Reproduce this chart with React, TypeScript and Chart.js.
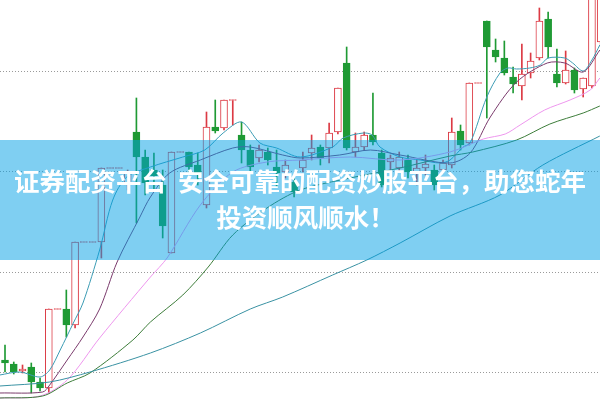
import React, { useEffect, useRef } from "react";
import { Chart, registerables } from "chart.js";

Chart.register(...registerables);

// ---- candle data (one entry per trading day) ----
const opens = [
  4.12, 4.08, 4.01, 4.05, 3.90, 3.84, 4.63, 4.63, 4.47, 5.30,
  5.30, 5.30, 6.04, 6.04, 5.87, 6.40, 6.15, 6.02, 5.87, 5.19,
  6.20, 6.20, 6.07, 5.67, 6.45, 6.44, 6.72, 6.37, 6.22, 6.14,
  6.20, 6.05, 6.00, 5.90, 6.04, 6.19, 6.25, 6.24, 6.40, 7.09,
  6.20, 6.25, 6.37, 6.19, 6.10, 6.04, 6.12, 6.00, 6.04, 6.02,
  6.02, 6.07, 6.41, 6.29, 6.89, 7.51, 7.22, 7.14, 6.95, 6.86,
  6.99, 7.14, 7.53, 6.98, 6.89, 7.02, 6.83, 6.86, 7.30,
];
const closes = [
  4.09, 4.00, 4.03, 3.90, 3.84, 4.63, 4.63, 4.47, 5.30, 5.30,
  5.30, 6.04, 6.04, 6.04, 6.00, 6.15, 5.89, 5.96, 5.46, 6.20,
  6.20, 6.05, 5.98, 6.45, 6.41, 6.72, 6.72, 6.22, 6.05, 6.22,
  6.12, 5.99, 6.07, 5.80, 6.12, 6.24, 6.14, 6.39, 6.84, 6.24,
  6.25, 6.37, 6.30, 5.87, 6.14, 6.15, 6.00, 6.04, 6.08, 5.87,
  6.09, 6.40, 6.27, 6.89, 6.89, 7.25, 7.15, 6.99, 6.88, 6.98,
  7.11, 7.51, 7.25, 6.89, 7.02, 6.82, 6.94, 7.82, 7.85,
];
const highs = [
  4.27, 4.10, 4.07, 4.09, 3.94, 4.63, 4.63, 4.82, 5.30, 5.30,
  5.30, 6.04, 6.04, 6.04, 6.02, 6.74, 6.22, 6.19, 6.02, 6.20,
  6.20, 6.20, 6.19, 6.60, 6.72, 6.72, 6.72, 6.50, 6.27, 6.27,
  6.24, 6.22, 6.12, 5.97, 6.20, 6.37, 6.27, 6.49, 6.84, 7.25,
  6.39, 6.40, 6.79, 6.22, 6.17, 6.20, 6.17, 6.12, 6.17, 6.07,
  6.12, 6.54, 6.47, 6.89, 6.89, 7.51, 7.33, 7.31, 7.05, 7.28,
  7.19, 7.64, 7.60, 7.23, 7.21, 7.04, 6.94, 7.90, 7.90,
];
const lows = [
  4.00, 3.98, 3.99, 3.79, 3.81, 3.79, 4.63, 4.35, 4.44, 5.30,
  5.30, 5.14, 6.04, 6.04, 5.82, 5.49, 5.77, 5.82, 5.34, 5.19,
  6.20, 6.00, 5.87, 5.64, 6.39, 6.42, 6.47, 6.09, 5.99, 6.10,
  6.07, 5.85, 5.94, 5.75, 6.00, 6.12, 6.07, 6.09, 6.38, 6.22,
  6.15, 6.22, 6.27, 5.85, 6.02, 6.00, 5.94, 5.87, 5.97, 5.82,
  5.99, 6.04, 6.22, 6.27, 6.89, 6.54, 7.10, 6.97, 6.79, 6.72,
  6.94, 7.12, 7.14, 6.85, 6.88, 6.79, 6.75, 6.84, 7.25,
];

// ---- moving averages (at day positions) ----
const ma5X = [-0.6, 1.7, 4, 5.1, 6.3, 7.8, 8.9, 10.8, 12.3, 13.9, 16.6, 20.3, 22.8, 24.9, 27, 29.1, 31, 33.7, 37.4, 38.6, 40.9, 41.9, 42.8, 45.1, 47.4, 49.7, 50.8, 52.3, 53.1, 55, 56.5, 57.4, 58.4, 59.9, 61.1, 62, 63.9, 64.8, 66, 67, 67.9];
const ma5 = [3.97, 4.00, 3.95, 4.02, 4.22, 4.49, 4.69, 5.22, 5.72, 5.95, 6.05, 6.15, 6.22, 6.39, 6.50, 6.29, 6.24, 6.15, 6.25, 6.34, 6.39, 6.37, 6.25, 6.15, 6.12, 6.09, 6.12, 6.25, 6.29, 6.75, 6.99, 7.04, 7.03, 7.04, 7.07, 7.14, 7.14, 7.09, 7.01, 7.12, 7.27];
const ma10X = [-0.6, 4.3, 5.1, 7.1, 8.9, 10.8, 12.8, 15.4, 16.6, 18.8, 22.3, 26, 28, 31.7, 33.7, 38.2, 41.7, 45.1, 50.8, 53.1, 55.4, 58.4, 61.9, 63.9, 66, 67.9];
const ma10 = [3.79, 3.80, 3.87, 4.12, 4.35, 4.63, 5.10, 5.55, 5.75, 5.99, 6.12, 6.24, 6.25, 6.17, 6.14, 6.17, 6.22, 6.17, 6.09, 6.19, 6.55, 6.90, 7.09, 7.09, 7.00, 7.22];
const ma20X = [-0.6, 4, 7.1, 10.8, 16.6, 18.5, 22.3, 26, 29.9, 33.7, 39.4, 45.1, 50.8, 54.6, 57.1, 58.8, 61.6, 64.5, 66.8, 67.9];
const ma20 = [3.74, 3.76, 3.92, 4.34, 4.95, 5.14, 5.67, 6.00, 6.10, 6.12, 6.15, 6.12, 6.20, 6.33, 6.38, 6.47, 6.62, 6.72, 6.82, 6.94];
const ma30X = [-0.6, 4.3, 7.1, 9.7, 14.6, 16.6, 20.3, 23.2, 26, 29.9, 33.7, 39.4, 45.1, 50.8, 53.4, 58.4, 62.2, 66, 67.9];
const ma30 = [3.74, 3.76, 3.89, 3.99, 4.32, 4.50, 4.77, 5.05, 5.37, 5.64, 5.82, 5.94, 6.04, 6.16, 6.20, 6.32, 6.48, 6.59, 6.66];
const ma60X = [-0.6, 5.1, 9.7, 16.6, 22.3, 28, 31.7, 37.4, 41.3, 45.1, 50.8, 56.5, 61.4, 67.9];
const ma60 = [3.86, 3.90, 4.00, 4.19, 4.39, 4.63, 4.75, 4.97, 5.12, 5.29, 5.56, 5.77, 6.07, 6.36];

const gridValues = [4, 5, 6, 7];
const titleLine1 = "证券配资平台 安全可靠的配资炒股平台，助您蛇年";
const titleLine2 = "投资顺风顺水！";

const UP = "#dc3a44";
const DOWN = "#1f9a34";

export default function App() {
  const ref = useRef<HTMLCanvasElement>(null);

  useEffect(() => {
    const canvas = ref.current;
    if (!canvas) return;
    const idx = opens.map((_, i) => i);
    const isUp = idx.map((i) => closes[i] >= opens[i]);
    const wickData = idx.map((i) => ({ x: i, y: [lows[i], highs[i]] }));
    const bodyData = idx.map((i) => {
      let lo = Math.min(opens[i], closes[i]);
      let hi = Math.max(opens[i], closes[i]);
      if (hi - lo < 0.01) {
        const m = (hi + lo) / 2;
        lo = m - 0.005;
        hi = m + 0.005;
      }
      return { x: i, y: [lo, hi] };
    });
    const line = (xs: number[], ys: number[], color: string) => ({
      type: "line" as const,
      data: xs.map((x, k) => ({ x, y: ys[k] })),
      borderColor: color,
      borderWidth: 1,
      pointRadius: 0,
      tension: 0.3,
      fill: false,
      order: 0,
    });

    const chart = new Chart(canvas, {
      type: "bar",
      data: {
        datasets: [
          {
            data: wickData as any,
            backgroundColor: idx.map((i) => (isUp[i] ? UP : DOWN)),
            barThickness: 1,
            grouped: false,
            order: 2,
          } as any,
          {
            data: bodyData as any,
            backgroundColor: idx.map((i) => (isUp[i] ? "#ffffff" : DOWN)),
            borderColor: idx.map((i) => (isUp[i] ? UP : DOWN)),
            borderWidth: 1,
            borderSkipped: false,
            barThickness: 7,
            grouped: false,
            order: 1,
          } as any,
          line(ma60X, ma60, "#3a92a3") as any,
          line(ma30X, ma30, "#3d7d3a") as any,
          line(ma20X, ma20, "#ee96ee") as any,
          line(ma10X, ma10, "#7a3a6c") as any,
          line(ma5X, ma5, "#3c9cb4") as any,
        ],
      },
      options: {
        responsive: false,
        animation: false,
        events: [],
        layout: { padding: 0 },
        plugins: { legend: { display: false }, tooltip: { enabled: false } },
        scales: {
          x: { type: "linear", min: -0.571, max: 67.92, offset: false, display: false },
          y: {
            type: "linear",
            min: 3.72,
            max: 7.72,
            ticks: { display: false },
            grid: { color: "#9a9a9a", drawTicks: false, lineWidth: 1 },
            border: { display: false, dash: [1, 2] },
            afterBuildTicks: (s: any) => {
              s.ticks = gridValues.map((v) => ({ value: v }));
            },
          },
        },
      } as any,
    });
    return () => chart.destroy();
  }, []);

  return (
    <div
      style={{
        position: "absolute",
        left: 0,
        top: 0,
        width: 600,
        height: 400,
        background: "#ffffff",
        overflow: "hidden",
      }}
    >
      <canvas ref={ref} width={600} height={400} style={{ display: "block" }} />
      <div
        style={{
          position: "absolute",
          left: 0,
          top: 140,
          width: 600,
          height: 120,
          boxSizing: "border-box",
          paddingTop: 22,
          background: "rgba(0,160,230,0.5)",
          color: "#ffffff",
          fontFamily: '"Noto Sans CJK SC", sans-serif',
          fontWeight: 700,
          fontSize: 25.5,
          lineHeight: "36px",
          textAlign: "center",
          whiteSpace: "nowrap",
          wordSpacing: 5,
        }}
      >
        <div>{titleLine1}</div>
        <div style={{ paddingLeft: 11 }}>{titleLine2}</div>
      </div>
    </div>
  );
}
